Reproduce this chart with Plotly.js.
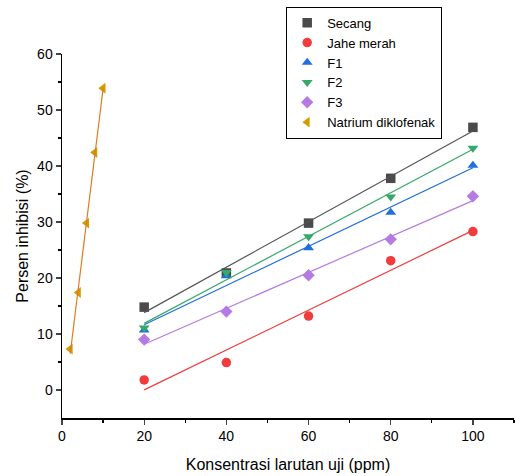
<!DOCTYPE html>
<html>
<head>
<meta charset="utf-8">
<script src="https://cdn.plot.ly/plotly-3.0.1.min.js"></script>
<style>html,body{margin:0;padding:0;background:#fff}#chart{width:515px;height:476px}</style>
</head>
<body>
<div id="chart"></div>
<script>
const concentrations = [20, 40, 60, 80, 100];
const secang = [14.8, 20.9, 29.8, 37.8, 46.9];
const jaheMerah = [1.8, 4.9, 13.2, 23.1, 28.3];
const f1 = [10.7, 20.4, 25.4, 31.7, 40.1];
const f2 = [11.1, 21.0, 27.4, 34.5, 43.2];
const f3 = [9.0, 14.0, 20.5, 26.9, 34.6];
const natriumX = [2, 4, 6, 8, 10];
const natrium = [7.3, 17.4, 29.8, 42.4, 53.9];

const seriesNames = ["Secang", "Jahe merah", "F1", "F2", "F3", "Natrium diklofenak"];

function fit(xs, ys) {
  const n = xs.length;
  const mx = xs.reduce((a, b) => a + b, 0) / n;
  const my = ys.reduce((a, b) => a + b, 0) / n;
  let sxy = 0, sxx = 0;
  for (let i = 0; i < n; i++) { sxy += (xs[i] - mx) * (ys[i] - my); sxx += (xs[i] - mx) ** 2; }
  const b = sxy / sxx, a = my - b * mx;
  return xs.map(x => a + b * x);
}

const specs = [
  {x: concentrations, y: secang, name: seriesNames[0], symbol: "square", mcolor: "#4a4a4a", lcolor: "#555555"},
  {x: concentrations, y: jaheMerah, name: seriesNames[1], symbol: "circle", mcolor: "#f03c3c", lcolor: "#f03c3c"},
  {x: concentrations, y: f1, name: seriesNames[2], symbol: "triangle-up", mcolor: "#1f6fdc", lcolor: "#1f6fdc"},
  {x: concentrations, y: f2, name: seriesNames[3], symbol: "triangle-down", mcolor: "#36a86a", lcolor: "#36a86a"},
  {x: concentrations, y: f3, name: seriesNames[4], symbol: "diamond", mcolor: "#b57be2", lcolor: "#b57be2"},
  {x: natriumX, y: natrium, name: seriesNames[5], symbol: "triangle-left", mcolor: "#d49a00", lcolor: "#e07b20"}
];

const traces = [];
specs.forEach(s => {
  traces.push({
    x: s.x, y: s.y, name: s.name, type: "scatter", mode: "markers",
    marker: {symbol: s.symbol, size: 9.5, color: s.mcolor}
  });
});
specs.forEach(s => {
  traces.push({
    x: s.x, y: fit(s.x, s.y), type: "scatter", mode: "lines", showlegend: false,
    line: {color: s.lcolor, width: 1.2}, hoverinfo: "skip"
  });
});

const layout = {
  width: 515, height: 476,
  margin: {l: 62, r: 1, t: 54, b: 58},
  paper_bgcolor: "#fff", plot_bgcolor: "#fff",
  font: {family: "Liberation Sans, Arial, sans-serif", color: "#000", size: 14},
  xaxis: {
    range: [0, 110], tickvals: [0, 20, 40, 60, 80, 100], ticks: "outside", ticklen: 5, tickwidth: 1.3,
    showline: true, linecolor: "#000", linewidth: 1.5, showgrid: false, zeroline: false,
    minor: {tickvals: [10, 30, 50, 70, 90, 110], ticks: "outside", ticklen: 3, tickcolor: "#000", tickwidth: 1.3, showgrid: false},
    tickfont: {size: 14},
    title: {text: "Konsentrasi larutan uji (ppm)", font: {size: 16}, standoff: 15}
  },
  yaxis: {
    range: [-5, 60], tickvals: [0, 10, 20, 30, 40, 50, 60], ticks: "outside", ticklen: 5, tickwidth: 1.3,
    showline: true, linecolor: "#000", linewidth: 1.5, showgrid: false, zeroline: false,
    minor: {tickvals: [5, 15, 25, 35, 45, 55], ticks: "outside", ticklen: 3, tickcolor: "#000", tickwidth: 1.3, showgrid: false},
    tickfont: {size: 14},
    title: {text: "Persen inhibisi (%)", font: {size: 16}, standoff: 4}
  },
  legend: {
    x: 0.496, y: 1.13, xanchor: "left", yanchor: "top",
    bordercolor: "#000", borderwidth: 1, bgcolor: "#fff",
    font: {size: 13}, tracegroupgap: 0, itemwidth: 30
  },
  showlegend: true
};

Plotly.newPlot("chart", traces, layout, {displayModeBar: false, staticPlot: true});
</script>
</body>
</html>
